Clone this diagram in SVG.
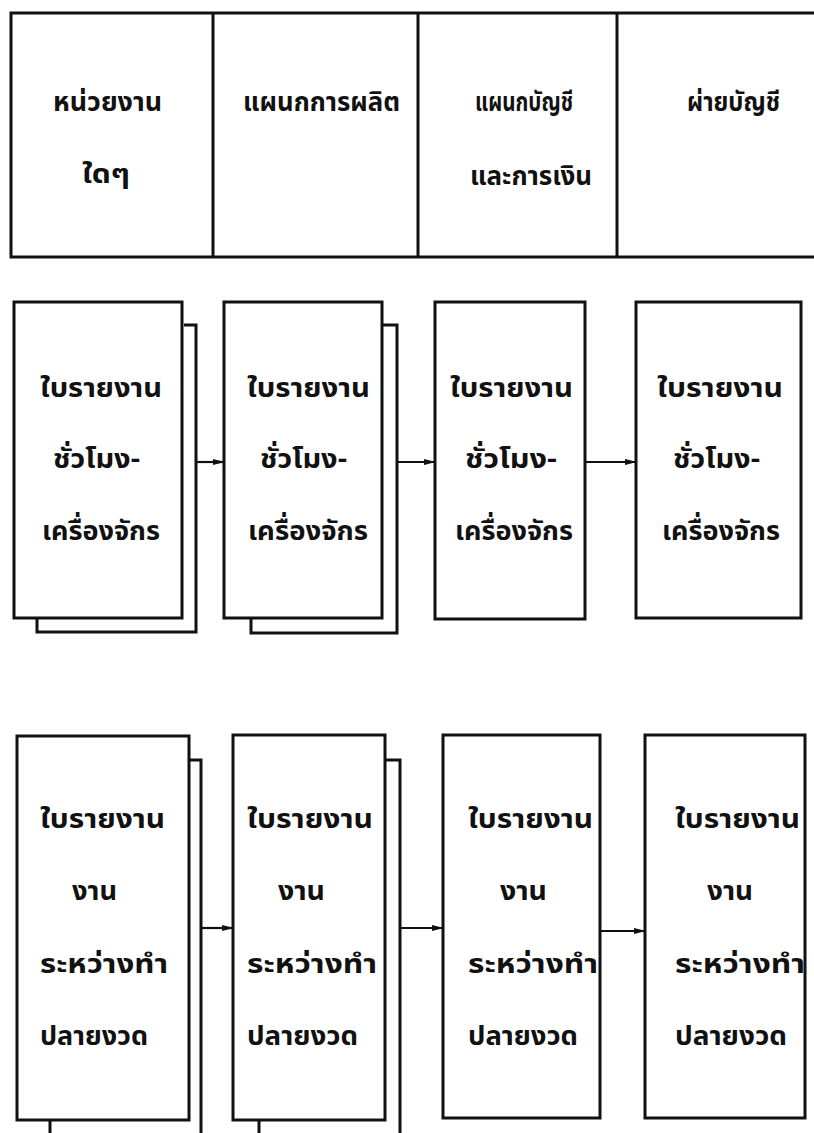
<svg xmlns="http://www.w3.org/2000/svg" width="814" height="1133" viewBox="0 0 814 1133">
<style>
.ln{fill:none;stroke:#111;stroke-width:3;stroke-linejoin:miter}
.ar{fill:none;stroke:#111;stroke-width:2.2}
.t{font-family:"Noto Sans Thai","Noto Sans Thai UI","Tlwg Typist","Garuda","Loma","DejaVu Sans",sans-serif;font-size:27px;fill:#111;font-weight:bold}
</style>
<defs>
<marker id="ah" markerWidth="12" markerHeight="8" refX="11" refY="4" orient="auto" markerUnits="userSpaceOnUse">
<path d="M0,1 L12,4 L0,7 Z" fill="#111"/>
</marker>
</defs>
<rect width="814" height="1133" fill="#fff"/>

<g id="header">
<rect class="ln" x="11" y="13" width="820" height="244"/>
<line class="ln" x1="213" y1="13" x2="213" y2="257"/>
<line class="ln" x1="418" y1="13" x2="418" y2="257"/>
<line class="ln" x1="617" y1="13" x2="617" y2="257"/>
<text class="t" x="53" y="111" textLength="109" lengthAdjust="spacingAndGlyphs">หน่วยงาน</text>
<text class="t" x="82" y="183" textLength="48" lengthAdjust="spacingAndGlyphs">ใดๆ</text>
<text class="t" x="243" y="111" textLength="157" lengthAdjust="spacingAndGlyphs">แผนกการผลิต</text>
<text class="t" x="475" y="111" textLength="98" lengthAdjust="spacingAndGlyphs">แผนกบัญชี</text>
<text class="t" x="470" y="185" textLength="122" lengthAdjust="spacingAndGlyphs">และการเงิน</text>
<text class="t" x="687" y="111" textLength="93" lengthAdjust="spacingAndGlyphs">ผ่ายบัญชี</text>
</g>

<g id="doc-r1-1">
<path class="ln" d="M184,325 H196 V632 H37 V618"/>
<rect class="ln" x="14" y="302" width="168" height="316"/>
<text class="t" x="40" y="397" textLength="122" lengthAdjust="spacingAndGlyphs">ใบรายงาน</text>
<text class="t" x="53" y="468" textLength="87" lengthAdjust="spacingAndGlyphs">ชั่วโมง-</text>
<text class="t" x="42" y="540" textLength="118" lengthAdjust="spacingAndGlyphs">เครื่องจักร</text>
</g>
<g id="doc-r1-2">
<path class="ln" d="M382,325 H397 V633 H251 V618"/>
<rect class="ln" x="224" y="302" width="158" height="316"/>
<text class="t" x="247" y="397" textLength="123" lengthAdjust="spacingAndGlyphs">ใบรายงาน</text>
<text class="t" x="260" y="468" textLength="87" lengthAdjust="spacingAndGlyphs">ชั่วโมง-</text>
<text class="t" x="248" y="540" textLength="120" lengthAdjust="spacingAndGlyphs">เครื่องจักร</text>
</g>
<g id="doc-r1-3">
<rect class="ln" x="435" y="302" width="150" height="317"/>
<text class="t" x="450" y="397" textLength="123" lengthAdjust="spacingAndGlyphs">ใบรายงาน</text>
<text class="t" x="465" y="468" textLength="92" lengthAdjust="spacingAndGlyphs">ชั่วโมง-</text>
<text class="t" x="455" y="540" textLength="118" lengthAdjust="spacingAndGlyphs">เครื่องจักร</text>
</g>
<g id="doc-r1-4">
<rect class="ln" x="636" y="302" width="165" height="316"/>
<text class="t" x="657" y="397" textLength="126" lengthAdjust="spacingAndGlyphs">ใบรายงาน</text>
<text class="t" x="673" y="468" textLength="87" lengthAdjust="spacingAndGlyphs">ชั่วโมง-</text>
<text class="t" x="662" y="540" textLength="118" lengthAdjust="spacingAndGlyphs">เครื่องจักร</text>
</g>

<g id="doc-r2-1">
<path class="ln" d="M189,760 H201 V1145 H50 V1120"/>
<rect class="ln" x="17" y="736" width="172" height="384"/>
<text class="t" x="40" y="828" textLength="125" lengthAdjust="spacingAndGlyphs">ใบรายงาน</text>
<text class="t" x="72" y="900" textLength="45" lengthAdjust="spacingAndGlyphs">งาน</text>
<text class="t" x="40" y="973" textLength="128" lengthAdjust="spacingAndGlyphs">ระหว่างทำ</text>
<text class="t" x="40" y="1045" textLength="108" lengthAdjust="spacingAndGlyphs">ปลายงวด</text>
</g>
<g id="doc-r2-2">
<path class="ln" d="M385,760 H400 V1145 H259 V1120"/>
<rect class="ln" x="233" y="735" width="152" height="385"/>
<text class="t" x="247" y="828" textLength="126" lengthAdjust="spacingAndGlyphs">ใบรายงาน</text>
<text class="t" x="278" y="900" textLength="47" lengthAdjust="spacingAndGlyphs">งาน</text>
<text class="t" x="247" y="973" textLength="130" lengthAdjust="spacingAndGlyphs">ระหว่างทำ</text>
<text class="t" x="247" y="1045" textLength="111" lengthAdjust="spacingAndGlyphs">ปลายงวด</text>
</g>
<g id="doc-r2-3">
<rect class="ln" x="443" y="735" width="157" height="383"/>
<text class="t" x="468" y="828" textLength="125" lengthAdjust="spacingAndGlyphs">ใบรายงาน</text>
<text class="t" x="500" y="900" textLength="47" lengthAdjust="spacingAndGlyphs">งาน</text>
<text class="t" x="468" y="973" textLength="130" lengthAdjust="spacingAndGlyphs">ระหว่างทำ</text>
<text class="t" x="468" y="1045" textLength="110" lengthAdjust="spacingAndGlyphs">ปลายงวด</text>
</g>
<g id="doc-r2-4">
<rect class="ln" x="645" y="735" width="160" height="383"/>
<text class="t" x="675" y="828" textLength="125" lengthAdjust="spacingAndGlyphs">ใบรายงาน</text>
<text class="t" x="707" y="900" textLength="46" lengthAdjust="spacingAndGlyphs">งาน</text>
<text class="t" x="675" y="973" textLength="130" lengthAdjust="spacingAndGlyphs">ระหว่างทำ</text>
<text class="t" x="675" y="1045" textLength="112" lengthAdjust="spacingAndGlyphs">ปลายงวด</text>
</g>

<g id="connectors">
<line class="ar" x1="196" y1="462" x2="224" y2="462" marker-end="url(#ah)"/>
<line class="ar" x1="397" y1="462" x2="435" y2="462" marker-end="url(#ah)"/>
<line class="ar" x1="585" y1="462" x2="636" y2="462" marker-end="url(#ah)"/>
<line class="ar" x1="201" y1="928" x2="233" y2="928" marker-end="url(#ah)"/>
<line class="ar" x1="400" y1="928" x2="443" y2="928" marker-end="url(#ah)"/>
<line class="ar" x1="600" y1="931" x2="645" y2="931" marker-end="url(#ah)"/>
</g>
</svg>
